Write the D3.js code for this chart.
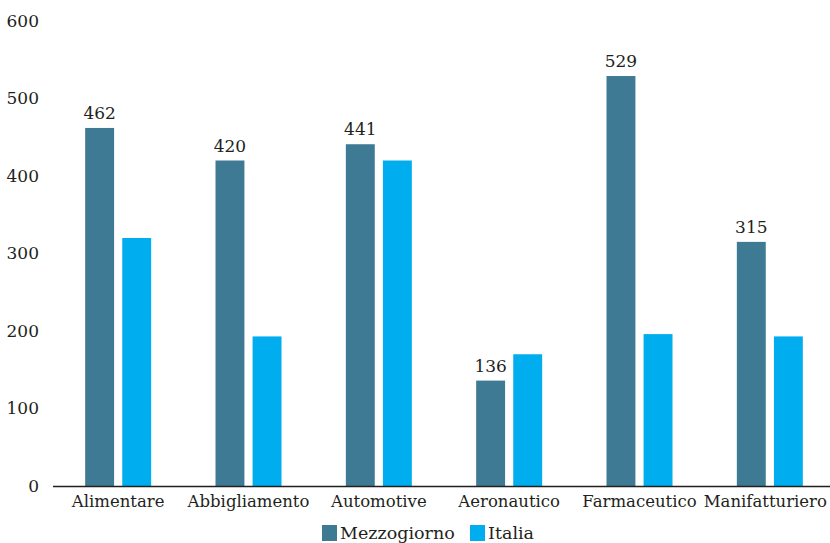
<!DOCTYPE html>
<html>
<head>
<meta charset="utf-8">
<script src="https://cdn.jsdelivr.net/npm/d3@7"></script>
<style>
  body { margin: 0; background: #fff; }
</style>
</head>
<body>
<div id="chart"></div>
<script>
// data
const categories = ["Alimentare", "Abbigliamento", "Automotive", "Aeronautico", "Farmaceutico", "Manifatturiero"];
const mezzogiorno = [462, 420, 441, 136, 529, 315];
const italia = [320, 193, 420, 170, 196, 193];
const seriesNames = ["Mezzogiorno", "Italia"];
const yTicks = [0, 100, 200, 300, 400, 500, 600];

const colors = ["#3e7a93", "#00aeef"];
const fontFam = "'DejaVu Serif', serif";
const ink = "#231f20";

const width = 830, height = 543;
const margin = { top: 21, bottom: 57, left: 53 };

const svg = d3.select("#chart").append("svg")
  .attr("width", width)
  .attr("height", height);

const x0 = d3.scaleBand()
  .domain(categories)
  .range([53, 835])
  .paddingInner(0)
  .paddingOuter(0);

const x1 = d3.scaleBand()
  .domain(seriesNames)
  .range([0, 66])
  .paddingInner(0.22);

const y = d3.scaleLinear()
  .domain([0, 600])
  .range([height - margin.bottom, margin.top]);

const rows = categories.map((c, i) => ({ cat: c, vals: [mezzogiorno[i], italia[i]] }));

// y labels (no gridlines)
svg.append("g")
  .selectAll("text")
  .data(yTicks)
  .enter()
  .append("text")
  .attr("x", 39)
  .attr("y", d => y(d))
  .attr("dy", "0.35em")
  .attr("text-anchor", "end")
  .attr("font-family", fontFam)
  .attr("fill", ink)
  .style("font-size", "17px")
  .text(d => d);

// bars
const groups = svg.append("g")
  .selectAll("g")
  .data(rows)
  .enter()
  .append("g")
  .attr("transform", d => `translate(${x0(d.cat) + x0.bandwidth() / 2 - 33},0)`);

groups.selectAll("rect")
  .data(d => d.vals.map((v, i) => ({ key: seriesNames[i], v: v, i: i })))
  .enter()
  .append("rect")
  .attr("x", d => x1(d.key))
  .attr("y", d => y(d.v))
  .attr("width", x1.bandwidth())
  .attr("height", d => y(0) - y(d.v))
  .attr("fill", d => colors[d.i]);

// value labels only on Mezzogiorno
groups.append("text")
  .attr("x", x1("Mezzogiorno") + x1.bandwidth() / 2)
  .attr("y", d => y(d.vals[0]) - 9)
  .attr("text-anchor", "middle")
  .attr("font-family", fontFam)
  .attr("fill", ink)
  .style("font-size", "17px")
  .text(d => d.vals[0]);

// x axis line
svg.append("line")
  .attr("x1", margin.left)
  .attr("x2", width)
  .attr("y1", y(0) + 0.5)
  .attr("y2", y(0) + 0.5)
  .attr("stroke", ink)
  .attr("stroke-width", 1.5);

// category labels
svg.append("g")
  .selectAll("text")
  .data(categories)
  .enter()
  .append("text")
  .attr("x", d => x0(d) + x0.bandwidth() / 2)
  .attr("y", y(0) + 21)
  .attr("text-anchor", "middle")
  .attr("font-family", fontFam)
  .attr("fill", ink)
  .style("font-size", "16.5px")
  .text(d => d)
  .each(function () {
    // keep the last label inside the picture
    const b = this.getBBox();
    const over = b.x + b.width - 827;
    if (over > 0) d3.select(this).attr("x", +d3.select(this).attr("x") - over);
  });

// legend
const legend = svg.append("g").attr("transform", "translate(322,525)");
const legX = [0, 148];
seriesNames.forEach((name, i) => {
  legend.append("rect")
    .attr("x", legX[i])
    .attr("y", 0)
    .attr("width", 15)
    .attr("height", 16)
    .attr("fill", colors[i]);
  legend.append("text")
    .attr("x", legX[i] + 18)
    .attr("y", 14)
    .attr("font-family", fontFam)
    .attr("fill", ink)
    .style("font-size", "17.5px")
    .text(name);
});
</script>
</body>
</html>
